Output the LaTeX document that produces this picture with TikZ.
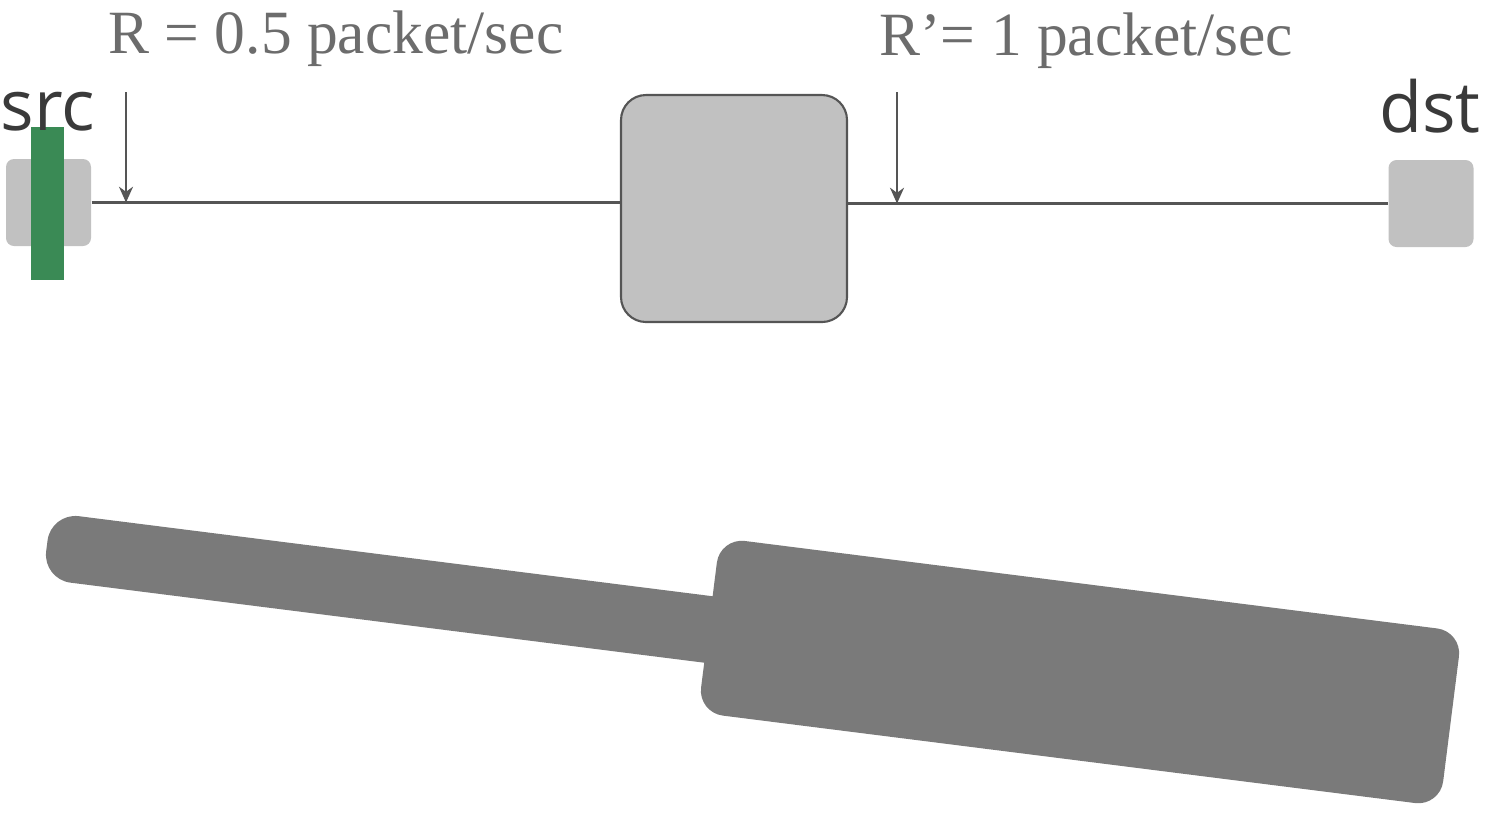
\documentclass[tikz,border=0pt]{standalone}
\usepackage{fontspec}
\setmainfont{Liberation Serif}
\newfontfamily\hostfont{Open Sans}
\usetikzlibrary{arrows.meta,positioning,calc}
\definecolor{hostgray}{RGB}{193,193,193}
\definecolor{linegray}{RGB}{85,85,85}
\definecolor{ratetext}{RGB}{108,108,108}
\definecolor{hosttext}{RGB}{58,58,58}
\definecolor{pktgreen}{RGB}{58,138,85}
\definecolor{queuegray}{RGB}{122,122,122}
\tikzset{
  % end hosts
  host/.style={
    fill=hostgray,
    rounded corners=0.8mm,
    inner sep=0pt,
    minimum width=8.5mm,
    minimum height=8.7mm
  },
  % router in the middle
  router/.style={
    draw=linegray,
    fill=hostgray,
    line width=0.6pt,
    rounded corners=2.5mm,
    inner sep=0pt,
    minimum width=22.6mm,
    minimum height=22.7mm
  },
  % packet on the wire
  packet/.style={fill=pktgreen, inner sep=0pt, minimum width=3.3mm, minimum height=15.3mm},
  % queue shapes
  queue/.style={fill=queuegray, inner sep=0pt, rotate=-7.2},
  % text
  hostlab/.style={anchor=base, text=hosttext, font=\hostfont\fontsize{20}{24}\selectfont},
  ratelab/.style={anchor=base west, text=ratetext, font=\fontsize{17.5}{21}\selectfont},
  % wires and arrows
  link/.style={linegray, line width=0.6pt},
  ratearr/.style={-{Stealth[length=4.5pt,width=4pt]}, linegray, line width=0.6pt},
}
\begin{document}
\begin{tikzpicture}[x=0.1mm, y=-0.1mm]
    \useasboundingbox (0,0) rectangle (1486,812);

    % Top: src -- router -- dst
    \node[host] (src) at (48.5,202.5) {};
    \node[router] (rtr) at (734,208.5) {};
    \node[host] (dst) at (1431,203.5) {};

    \draw[link] (src.east) -- (src.east -| rtr.west);
    \draw[link] (rtr.east |- dst.west) -- (dst.west);

    \node[packet] (pkt) at (47.5,203.5) {};

    \node[hostlab] (srclab) at (48,130) {src};
    \node[hostlab] (dstlab) at (1430,132) {dst};

    % Rates
    \node[ratelab] (rin) at (96,53) {R = 0.5 packet/sec};
    \node[ratelab] (rout) at (867,55) {R’= 1 packet/sec};
    \coordinate (rinTop) at (126,92);
    \coordinate (routTop) at (897,92);
    \draw[ratearr] (rinTop) -- (rinTop |- src.east);
    \draw[ratearr] (routTop) -- (routTop |- dst.west);

    % Bottom: growing queue
    \node[queue, rounded corners=2.8mm, minimum width=72mm, minimum height=6.7mm] (qbar) at (404,591) {};
    \node[queue, rounded corners=2.5mm, minimum width=74.8mm, minimum height=17.6mm] (qblock) at (1080,672) {};
\end{tikzpicture}
\end{document}
